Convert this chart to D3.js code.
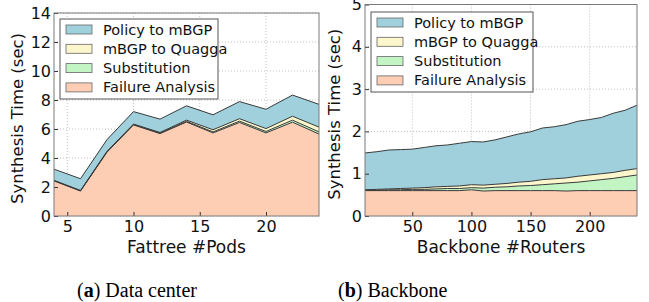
<!DOCTYPE html>
<html>
<head>
<meta charset="utf-8">
<script src="https://cdn.jsdelivr.net/npm/d3@7"></script>
<style>
body { margin: 0; background: #fff; }
svg { display: block; }
.tick text { font-family: "DejaVu Sans", sans-serif; }
</style>
</head>
<body>
<div id="chart"></div>
<script>
// series names, bottom to top
var seriesNames = ["Failure Analysis", "Substitution", "mBGP to Quagga", "Policy to mBGP"];
var seriesColors = ["#fdcdb4", "#c2f4c4", "#fcf6cc", "#a0d0dc"];

// (a) data center
var podsX = [4, 6, 8, 10, 12, 14, 16, 18, 20, 22, 24];
var podsFailure = [2.42, 1.72, 4.40, 6.28, 5.68, 6.48, 5.73, 6.45, 5.73, 6.47, 5.65];
var podsSubst = [0.02, 0.02, 0.03, 0.03, 0.04, 0.05, 0.07, 0.09, 0.10, 0.14, 0.15];
var podsQuagga = [0.02, 0.02, 0.03, 0.03, 0.04, 0.08, 0.15, 0.17, 0.20, 0.27, 0.33];
var podsPolicy = [0.77, 0.81, 0.81, 0.86, 0.92, 0.99, 1.03, 1.18, 1.33, 1.46, 1.57];
var podsXTicks = [5, 10, 15, 20];
var podsYTicks = [0, 2, 4, 6, 8, 10, 12, 14];

// (b) backbone
var routersX = [10, 20, 30, 40, 50, 60, 70, 80, 90, 100, 110, 120, 130, 140, 150, 160, 170, 180, 190, 200, 210, 220, 230, 240];
var routersFailure = [0.60, 0.60, 0.60, 0.60, 0.60, 0.60, 0.60, 0.60, 0.60, 0.62, 0.59, 0.60, 0.60, 0.60, 0.60, 0.60, 0.60, 0.59, 0.60, 0.60, 0.60, 0.60, 0.60, 0.60];
var routersSubst = [0.01, 0.01, 0.02, 0.02, 0.03, 0.03, 0.04, 0.05, 0.05, 0.05, 0.07, 0.08, 0.09, 0.11, 0.12, 0.14, 0.16, 0.19, 0.20, 0.23, 0.26, 0.29, 0.33, 0.37];
var routersQuagga = [0.01, 0.02, 0.02, 0.03, 0.03, 0.04, 0.05, 0.05, 0.06, 0.07, 0.07, 0.07, 0.08, 0.09, 0.10, 0.12, 0.12, 0.12, 0.14, 0.14, 0.14, 0.14, 0.15, 0.15];
var routersPolicy = [0.87, 0.89, 0.92, 0.92, 0.92, 0.95, 0.97, 0.98, 1.01, 1.02, 1.02, 1.05, 1.10, 1.14, 1.17, 1.22, 1.23, 1.26, 1.30, 1.31, 1.33, 1.40, 1.42, 1.50];
var routersXTicks = [50, 100, 150, 200];
var routersYTicks = [0, 1, 2, 3, 4, 5];

var svg = d3.select("#chart").append("svg")
    .attr("width", 649)
    .attr("height", 302);

var drawPanel = function drawPanel(opt) {
    var x = d3.scaleLinear().domain(opt.xDomain).range([opt.left, opt.right]);
    var y = d3.scaleLinear().domain(opt.yDomain).range([opt.bottom, opt.top]);

    //build rows for the stack
    var rows = opt.xs.map(function(v, i) {
        var r = { x: v };
        seriesNames.forEach(function(name, k) { r[name] = opt.series[k][i]; });
        return r;
    });
    var stacked = d3.stack().keys(seriesNames)(rows);

    var g = svg.append("g");

    //grid
    g.selectAll(".gx").data(opt.xTicks).enter().append("line")
        .attr("x1", function(d) { return x(d); }).attr("x2", function(d) { return x(d); })
        .attr("y1", opt.top).attr("y2", opt.bottom)
        .attr("stroke", "#b0b0b0").attr("stroke-width", 0.8).attr("stroke-dasharray", "1,2");
    g.selectAll(".gy").data(opt.yTicks).enter().append("line")
        .attr("x1", opt.left).attr("x2", opt.right)
        .attr("y1", function(d) { return y(d); }).attr("y2", function(d) { return y(d); })
        .attr("stroke", "#b0b0b0").attr("stroke-width", 0.8).attr("stroke-dasharray", "1,2");

    var area = d3.area()
        .x(function(d) { return x(d.data.x); })
        .y0(function(d) { return y(d[0]); })
        .y1(function(d) { return y(d[1]); });
    var topLine = d3.line()
        .x(function(d) { return x(d.data.x); })
        .y(function(d) { return y(d[1]); });

    g.selectAll(".layer").data(stacked).enter().append("path")
        .attr("d", area)
        .attr("fill", function(d, i) { return seriesColors[i]; });
    g.selectAll(".edge").data(stacked).enter().append("path")
        .attr("d", topLine)
        .attr("fill", "none")
        .attr("stroke", "#3a3a3a")
        .attr("stroke-width", 1);

    //axes
    var xAxis = g.append("g").attr("transform", "translate(0," + opt.bottom + ")")
        .call(d3.axisBottom(x).tickValues(opt.xTicks).tickFormat(d3.format("d")).tickSize(-4).tickPadding(5));
    var yAxis = g.append("g").attr("transform", "translate(" + opt.left + ",0)")
        .call(d3.axisLeft(y).tickValues(opt.yTicks).tickFormat(d3.format("d")).tickSize(-4).tickPadding(3));
    [xAxis, yAxis].forEach(function(a) {
        a.select(".domain").remove();
        a.selectAll(".tick line").attr("stroke", "#333");
        a.selectAll(".tick text").attr("font-size", 16).attr("fill", "#111");
    });

    //frame
    g.append("rect")
        .attr("x", opt.left).attr("y", opt.top)
        .attr("width", opt.right - opt.left).attr("height", opt.bottom - opt.top)
        .attr("fill", "none").attr("stroke", "#7a7a7a").attr("stroke-width", 1);

    //axis labels
    g.append("text")
        .attr("x", (opt.left + opt.right) / 2).attr("y", 253)
        .attr("text-anchor", "middle")
        .attr("font-family", "DejaVu Sans, sans-serif").attr("font-size", 17).attr("fill", "#111")
        .text(opt.xLabel);
    g.append("text")
        .attr("transform", "translate(" + opt.yLabelX + "," + ((opt.top + opt.bottom) / 2 + 4) + ")rotate(-90)")
        .attr("text-anchor", "middle")
        .attr("font-family", "DejaVu Sans, sans-serif").attr("font-size", 16.5).attr("fill", "#111")
        .text("Synthesis Time (sec)");

    //legend
    var lg = g.append("g");
    lg.append("rect")
        .attr("x", opt.legX).attr("y", opt.legY).attr("width", opt.legW).attr("height", 80)
        .attr("fill", "#fff").attr("stroke", "#555").attr("stroke-width", 1);
    var order = [3, 2, 1, 0];
    order.forEach(function(k, i) {
        var cy = opt.legY + 10.5 + i * 19.3;
        lg.append("rect")
            .attr("x", opt.legX + 6).attr("y", cy - 4.5).attr("width", 26).attr("height", 9)
            .attr("fill", seriesColors[k]).attr("stroke", "#666").attr("stroke-width", 0.8);
        lg.append("text")
            .attr("x", opt.legX + 43).attr("y", cy + 5)
            .attr("font-family", "DejaVu Sans, sans-serif").attr("font-size", 14.5).attr("fill", "#111")
            .text(seriesNames[k]);
    });

    //caption
    var cap = svg.append("text")
        .attr("x", opt.capX).attr("y", 297)
        .attr("font-family", "Liberation Serif, Times New Roman, serif").attr("font-size", 20).attr("fill", "#000");
    cap.append("tspan").text("(");
    cap.append("tspan").attr("font-weight", "bold").text(opt.capLetter);
    cap.append("tspan").text(") " + opt.capText);
};

drawPanel({
    xs: podsX,
    series: [podsFailure, podsSubst, podsQuagga, podsPolicy],
    xDomain: [4, 24], yDomain: [0, 14],
    xTicks: podsXTicks, yTicks: podsYTicks,
    left: 54, right: 319, top: 13, bottom: 216,
    xLabel: "Fattree #Pods", yLabelX: 23,
    legX: 60, legY: 19, legW: 158,
    capX: 77, capLetter: "a", capText: "Data center"
});

drawPanel({
    xs: routersX,
    series: [routersFailure, routersSubst, routersQuagga, routersPolicy],
    xDomain: [10, 240], yDomain: [0, 5],
    xTicks: routersXTicks, yTicks: routersYTicks,
    left: 365, right: 637, top: 4.5, bottom: 216,
    xLabel: "Backbone #Routers", yLabelX: 340,
    legX: 371, legY: 12, legW: 162,
    capX: 338, capLetter: "b", capText: "Backbone"
});
</script>
</body>
</html>
